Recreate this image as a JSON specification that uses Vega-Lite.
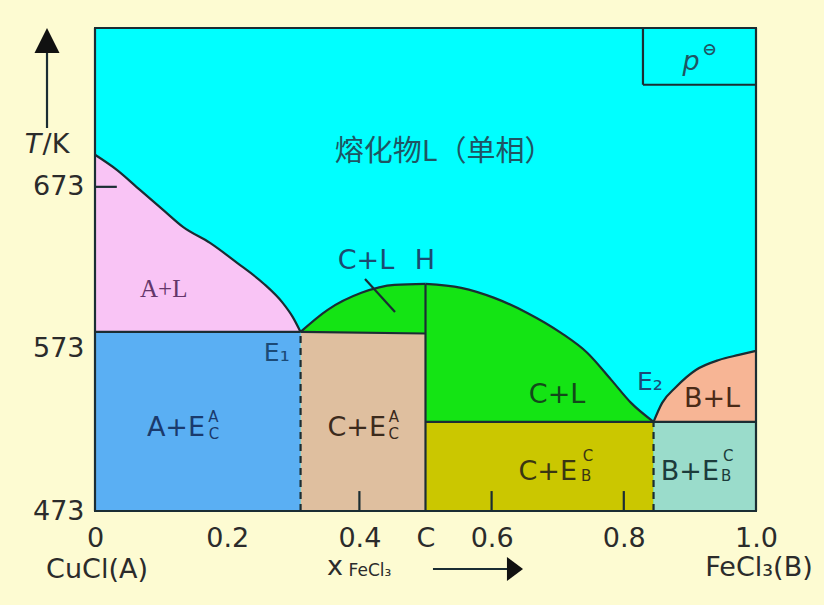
{
  "$schema": "https://vega.github.io/schema/vega-lite/v6.json",
  "width": 661,
  "height": 483,
  "autosize": {"type": "none"},
  "padding": {"left": 95, "top": 28, "right": 68, "bottom": 94},
  "background": "#fdfbd2",
  "config": {
    "view": {"fill": "#00ffff", "stroke": "#1b2d33", "strokeWidth": 2},
    "text": {"font": "DejaVu Sans", "align": "center", "baseline": "middle"},
    "axis": {
      "title": null, "ticks": false, "domain": false, "grid": false,
      "labelFont": "DejaVu Sans", "labelFontSize": 27, "labelColor": "#2b2b2b",
      "labelFlush": false, "labelOverlap": false, "labelBound": false
    },
    "axisX": {"labelPadding": 14},
    "axisY": {"labelPadding": 11}
  },
  "datasets": {
    "regions": [
      {"region": "A+L", "x": 0, "top": 692.8, "bottom": 583.5},
      {"region": "A+L", "x": 0.033, "top": 683.5, "bottom": 583.5},
      {"region": "A+L", "x": 0.068, "top": 671.1, "bottom": 583.5},
      {"region": "A+L", "x": 0.103, "top": 658.8, "bottom": 583.5},
      {"region": "A+L", "x": 0.133, "top": 648.3, "bottom": 583.5},
      {"region": "A+L", "x": 0.174, "top": 638.4, "bottom": 583.5},
      {"region": "A+L", "x": 0.215, "top": 626.1, "bottom": 583.5},
      {"region": "A+L", "x": 0.254, "top": 613.7, "bottom": 583.5},
      {"region": "A+L", "x": 0.284, "top": 601.4, "bottom": 583.5},
      {"region": "A+L", "x": 0.299, "top": 592.8, "bottom": 583.5},
      {"region": "A+L", "x": 0.311, "top": 583.5, "bottom": 583.5},
      {"region": "A+E", "x": 0, "top": 583.5, "bottom": 473},
      {"region": "A+E", "x": 0.311, "top": 583.5, "bottom": 473},
      {"region": "C+E(A)", "x": 0.311, "top": 583.5, "bottom": 473},
      {"region": "C+E(A)", "x": 0.5, "top": 582.5, "bottom": 473},
      {"region": "C+L(1)", "x": 0.311, "top": 583.5, "bottom": 583.5},
      {"region": "C+L(1)", "x": 0.352, "top": 597.1, "bottom": 583.5},
      {"region": "C+L(1)", "x": 0.403, "top": 607.6, "bottom": 583.2},
      {"region": "C+L(1)", "x": 0.453, "top": 612.5, "bottom": 582.9},
      {"region": "C+L(1)", "x": 0.5, "top": 613.1, "bottom": 582.5},
      {"region": "C+L(2)", "x": 0.5, "top": 613.1, "bottom": 528},
      {"region": "C+L(2)", "x": 0.554, "top": 610.7, "bottom": 528},
      {"region": "C+L(2)", "x": 0.604, "top": 604.5, "bottom": 528},
      {"region": "C+L(2)", "x": 0.654, "top": 595.2, "bottom": 528},
      {"region": "C+L(2)", "x": 0.705, "top": 582.9, "bottom": 528},
      {"region": "C+L(2)", "x": 0.745, "top": 570.5, "bottom": 528},
      {"region": "C+L(2)", "x": 0.781, "top": 553.9, "bottom": 528},
      {"region": "C+L(2)", "x": 0.811, "top": 539.7, "bottom": 528},
      {"region": "C+L(2)", "x": 0.845, "top": 528, "bottom": 528},
      {"region": "C+E(B)", "x": 0.5, "top": 528, "bottom": 473},
      {"region": "C+E(B)", "x": 0.845, "top": 528, "bottom": 473},
      {"region": "B+L", "x": 0.845, "top": 528, "bottom": 528},
      {"region": "B+L", "x": 0.858, "top": 539.7, "bottom": 528},
      {"region": "B+L", "x": 0.879, "top": 549.5, "bottom": 528},
      {"region": "B+L", "x": 0.909, "top": 560, "bottom": 528},
      {"region": "B+L", "x": 0.944, "top": 566.2, "bottom": 528},
      {"region": "B+L", "x": 0.974, "top": 569.3, "bottom": 528},
      {"region": "B+L", "x": 1, "top": 571.8, "bottom": 528},
      {"region": "B+E", "x": 0.845, "top": 528, "bottom": 473},
      {"region": "B+E", "x": 1, "top": 528, "bottom": 473}
    ],
    "rules": [
      {"x": 0, "y": 473, "x2": 1, "y2": 473, "kind": "solid"},
      {"x": 0, "y": 771, "x2": 1, "y2": 771, "kind": "solid"},
      {"x": 0, "y": 473, "x2": 0, "y2": 771, "kind": "solid"},
      {"x": 1, "y": 473, "x2": 1, "y2": 771, "kind": "solid"},
      {"x": 0, "y": 583.5, "x2": 0.311, "y2": 583.5, "kind": "solid"},
      {"x": 0.311, "y": 583.5, "x2": 0.5, "y2": 582.5, "kind": "solid"},
      {"x": 0.5, "y": 473, "x2": 0.5, "y2": 613.1, "kind": "solid"},
      {"x": 0.5, "y": 528, "x2": 1, "y2": 528, "kind": "solid"},
      {"x": 0.4085, "y": 616.2, "x2": 0.4539, "y2": 595.8, "kind": "solid"},
      {"x": 0, "y": 673, "x2": 0.033, "y2": 673, "kind": "solid"},
      {"x": 0.4, "y": 473, "x2": 0.4, "y2": 485.3, "kind": "solid"},
      {"x": 0.6, "y": 473, "x2": 0.6, "y2": 485.3, "kind": "solid"},
      {"x": 0.8, "y": 473, "x2": 0.8, "y2": 485.3, "kind": "solid"},
      {"x": 0.829, "y": 771, "x2": 0.829, "y2": 736, "kind": "solid"},
      {"x": 0.829, "y": 736, "x2": 1, "y2": 736, "kind": "solid"},
      {"x": -0.0726, "y": 709.3, "x2": -0.0726, "y2": 757.4, "kind": "solid"},
      {"x": 0.5113, "y": 437.2, "x2": 0.628, "y2": 437.2, "kind": "solid"},
      {"x": 0.311, "y": 473, "x2": 0.311, "y2": 583.5, "kind": "dashed"},
      {"x": 0.845, "y": 473, "x2": 0.845, "y2": 528, "kind": "dashed"}
    ],
    "heads": [
      {"x": -0.0726, "y": 763.3, "dir": "up"},
      {"x": 0.6354, "y": 437.2, "dir": "right"}
    ],
    "labels": [
      {"text": "熔化物L（单相）", "x": 0.528, "y": 694.5, "group": "cjk", "zone": "melt"},
      {"text": "A+L", "x": 0.104, "y": 610.0, "group": "serif", "zone": "A+L"},
      {"text": "E₁", "x": 0.275, "y": 570.5, "group": "point", "zone": "eutectic"},
      {"text": "E₂", "x": 0.8396, "y": 552.6, "group": "point", "zone": "eutectic"},
      {"text": "A+E", "x": 0.1225, "y": 524.2, "group": "phase", "zone": "A+E"},
      {"text": "A", "x": 0.179, "y": 531.0, "group": "script", "zone": "A+E"},
      {"text": "C", "x": 0.18, "y": 520.5, "group": "script", "zone": "A+E"},
      {"text": "C+E", "x": 0.396, "y": 524.2, "group": "phase", "zone": "C+E(A)"},
      {"text": "A", "x": 0.452, "y": 531.0, "group": "script", "zone": "C+E(A)"},
      {"text": "C", "x": 0.452, "y": 520.5, "group": "script", "zone": "C+E(A)"},
      {"text": "C+E", "x": 0.685, "y": 497.1, "group": "phase", "zone": "C+E(B)"},
      {"text": "C", "x": 0.746, "y": 506.9, "group": "script", "zone": "C+E(B)"},
      {"text": "B", "x": 0.743, "y": 494.6, "group": "script", "zone": "C+E(B)"},
      {"text": "B+E", "x": 0.9, "y": 497.1, "group": "phase", "zone": "B+E"},
      {"text": "C", "x": 0.958, "y": 506.9, "group": "script", "zone": "B+E"},
      {"text": "B", "x": 0.955, "y": 494.6, "group": "script", "zone": "B+E"},
      {"text": "C+L", "x": 0.41, "y": 627.2, "group": "phase", "zone": "H"},
      {"text": "H", "x": 0.4992, "y": 627.2, "group": "phase", "zone": "H"},
      {"text": "C+L", "x": 0.699, "y": 544.6, "group": "phase", "zone": "C+L"},
      {"text": "B+L", "x": 0.9334, "y": 542.1, "group": "phase", "zone": "B+L"},
      {"text": "p", "x": 0.9017, "y": 750.0, "group": "italic", "zone": "melt"},
      {"text": "⊖", "x": 0.93, "y": 757.5, "group": "symbol", "zone": "melt"},
      {"text": "T", "x": -0.0938, "y": 698.8, "group": "italic", "zone": "axis"},
      {"text": "/K", "x": -0.059, "y": 698.8, "group": "name", "zone": "axis"},
      {"text": "CuCl(A)", "x": 0.003, "y": 436.6, "group": "name", "zone": "axis"},
      {"text": "FeCl₃(B)", "x": 1.0045, "y": 437.8, "group": "name", "zone": "axis"},
      {"text": "x", "x": 0.363, "y": 438.4, "group": "name", "zone": "axis"},
      {"text": "FeCl₃", "x": 0.416, "y": 436.0, "group": "sub", "zone": "axis"}
    ]
  },
  "resolve": {"scale": {"color": "independent"}},
  "layer": [
    {
      "data": {"name": "regions"},
      "mark": {"type": "area", "interpolate": "monotone"},
      "encoding": {
        "x": {
          "field": "x", "type": "quantitative", "title": null,
          "scale": {"domain": [0, 1], "nice": false, "zero": false},
          "axis": {"values": [0, 0.2, 0.4, 0.5, 0.6, 0.8, 1], "labelExpr": "datum.value === 0.5 ? 'C' : datum.value === 0 ? '0' : format(datum.value, '.1f')"}
        },
        "y": {
          "field": "top", "type": "quantitative", "stack": null, "title": null,
          "scale": {"domain": [473, 771], "nice": false, "zero": false},
          "axis": {"values": [473, 573, 673]}
        },
        "y2": {"field": "bottom"},
        "color": {
          "field": "region", "type": "nominal", "legend": null,
          "scale": {
            "domain": ["A+L", "A+E", "C+E(A)", "C+L(1)", "C+L(2)", "C+E(B)", "B+L", "B+E"],
            "range": ["#f9c4f5", "#5aaff3", "#dfbf9f", "#14e414", "#14e414", "#cbc700", "#f7b595", "#9adccb"]
          }
        }
      }
    },
    {
      "data": {"name": "regions"},
      "transform": [{"filter": {"field": "region", "oneOf": ["A+L", "C+L(1)", "C+L(2)", "B+L"]}}],
      "mark": {"type": "line", "interpolate": "monotone", "color": "#1b2d33", "strokeWidth": 2.2},
      "encoding": {
        "x": {"field": "x", "type": "quantitative", "title": null, "scale": {"domain": [0, 1], "nice": false, "zero": false},
          "axis": {"values": [0, 0.2, 0.4, 0.5, 0.6, 0.8, 1], "labelExpr": "datum.value === 0.5 ? 'C' : datum.value === 0 ? '0' : format(datum.value, '.1f')"}},
        "y": {"field": "top", "type": "quantitative", "title": null, "scale": {"domain": [473, 771], "nice": false, "zero": false},
          "axis": {"values": [473, 573, 673]}},
        "detail": {"field": "region"}
      }
    },
    {
      "data": {"name": "rules"},
      "transform": [{"filter": "datum.kind === 'solid'"}],
      "mark": {"type": "rule", "color": "#1b2d33", "strokeWidth": 2.2},
      "encoding": {
        "x": {"field": "x", "type": "quantitative", "title": null, "scale": {"domain": [0, 1], "nice": false, "zero": false},
          "axis": {"values": [0, 0.2, 0.4, 0.5, 0.6, 0.8, 1], "labelExpr": "datum.value === 0.5 ? 'C' : datum.value === 0 ? '0' : format(datum.value, '.1f')"}},
        "y": {"field": "y", "type": "quantitative", "title": null, "scale": {"domain": [473, 771], "nice": false, "zero": false},
          "axis": {"values": [473, 573, 673]}},
        "x2": {"field": "x2"},
        "y2": {"field": "y2"}
      }
    },
    {
      "data": {"name": "rules"},
      "transform": [{"filter": "datum.kind === 'dashed'"}],
      "mark": {"type": "rule", "color": "#1b2d33", "strokeWidth": 2.2, "strokeDash": [7, 5]},
      "encoding": {
        "x": {"field": "x", "type": "quantitative", "title": null, "scale": {"domain": [0, 1], "nice": false, "zero": false},
          "axis": {"values": [0, 0.2, 0.4, 0.5, 0.6, 0.8, 1], "labelExpr": "datum.value === 0.5 ? 'C' : datum.value === 0 ? '0' : format(datum.value, '.1f')"}},
        "y": {"field": "y", "type": "quantitative", "title": null, "scale": {"domain": [473, 771], "nice": false, "zero": false},
          "axis": {"values": [473, 573, 673]}},
        "x2": {"field": "x2"},
        "y2": {"field": "y2"}
      }
    },
    {
      "data": {"name": "heads"},
      "transform": [{"filter": "datum.dir === 'up'"}],
      "mark": {"type": "point", "filled": true, "opacity": 1, "color": "#111111", "shape": "M0,-1L-1,1L1,1Z", "size": 625},
      "encoding": {
        "x": {"field": "x", "type": "quantitative", "title": null, "scale": {"domain": [0, 1], "nice": false, "zero": false},
          "axis": {"values": [0, 0.2, 0.4, 0.5, 0.6, 0.8, 1], "labelExpr": "datum.value === 0.5 ? 'C' : datum.value === 0 ? '0' : format(datum.value, '.1f')"}},
        "y": {"field": "y", "type": "quantitative", "title": null, "scale": {"domain": [473, 771], "nice": false, "zero": false},
          "axis": {"values": [473, 573, 673]}}
      }
    },
    {
      "data": {"name": "heads"},
      "transform": [{"filter": "datum.dir === 'right'"}],
      "mark": {"type": "point", "filled": true, "opacity": 1, "color": "#111111", "shape": "M0.67,0L-0.67,-1L-0.67,1Z", "size": 576},
      "encoding": {
        "x": {"field": "x", "type": "quantitative", "title": null, "scale": {"domain": [0, 1], "nice": false, "zero": false},
          "axis": {"values": [0, 0.2, 0.4, 0.5, 0.6, 0.8, 1], "labelExpr": "datum.value === 0.5 ? 'C' : datum.value === 0 ? '0' : format(datum.value, '.1f')"}},
        "y": {"field": "y", "type": "quantitative", "title": null, "scale": {"domain": [473, 771], "nice": false, "zero": false},
          "axis": {"values": [473, 573, 673]}}
      }
    },
    {
      "data": {"name": "labels"},
      "encoding": {
        "x": {"field": "x", "type": "quantitative", "title": null, "scale": {"domain": [0, 1], "nice": false, "zero": false},
          "axis": {"values": [0, 0.2, 0.4, 0.5, 0.6, 0.8, 1], "labelExpr": "datum.value === 0.5 ? 'C' : datum.value === 0 ? '0' : format(datum.value, '.1f')"}},
        "y": {"field": "y", "type": "quantitative", "title": null, "scale": {"domain": [473, 771], "nice": false, "zero": false},
          "axis": {"values": [473, 573, 673]}},
        "text": {"field": "text"},
        "color": {
          "field": "zone", "type": "nominal", "legend": null,
          "scale": {
            "domain": ["melt", "A+L", "A+E", "C+E(A)", "C+L", "C+E(B)", "B+L", "B+E", "eutectic", "H", "axis"],
            "range": ["#1f5563", "#64366a", "#1a3a6c", "#3b2a1c", "#12491a", "#3a3612", "#4a2a17", "#1c3b3b", "#1b4a76", "#1b4a70", "#2b2b2b"]
          }
        }
      },
      "layer": [
        {"transform": [{"filter": "datum.group === 'phase'"}], "mark": {"type": "text", "fontSize": 27}},
        {"transform": [{"filter": "datum.group === 'point'"}], "mark": {"type": "text", "fontSize": 25}},
        {"transform": [{"filter": "datum.group === 'script'"}], "mark": {"type": "text", "fontSize": 15}},
        {"transform": [{"filter": "datum.group === 'serif'"}], "mark": {"type": "text", "fontSize": 25, "font": "Liberation Serif"}},
        {"transform": [{"filter": "datum.group === 'cjk'"}], "mark": {"type": "text", "fontSize": 29, "font": "Noto Sans CJK SC"}},
        {"transform": [{"filter": "datum.group === 'name'"}], "mark": {"type": "text", "fontSize": 27}},
        {"transform": [{"filter": "datum.group === 'italic'"}], "mark": {"type": "text", "fontSize": 27, "fontStyle": "italic"}},
        {"transform": [{"filter": "datum.group === 'sub'"}], "mark": {"type": "text", "fontSize": 17}},
        {"transform": [{"filter": "datum.group === 'symbol'"}], "mark": {"type": "text", "fontSize": 17, "fontWeight": "bold"}}
      ]
    }
  ]
}
